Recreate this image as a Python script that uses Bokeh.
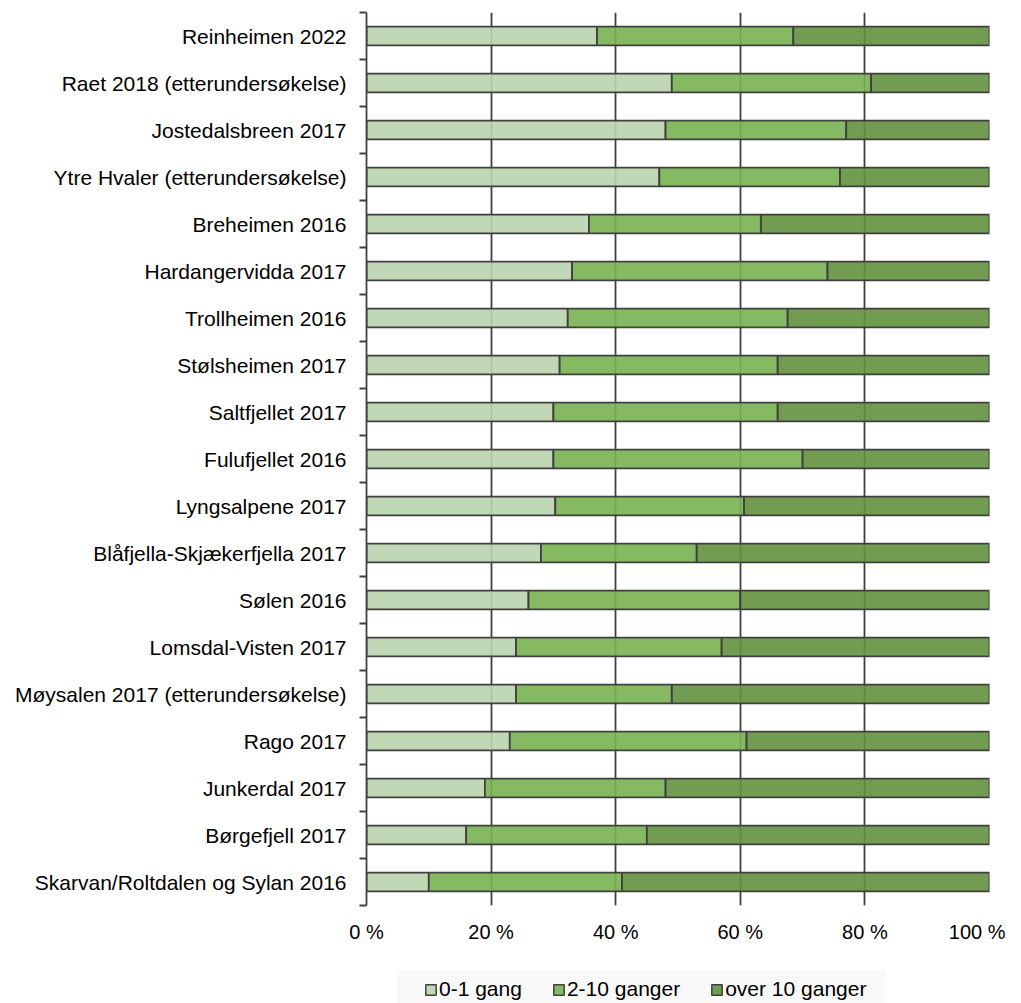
from bokeh.plotting import figure
from bokeh.models import Range1d, FixedTicker, Legend, LegendItem, ColumnDataSource, Spacer
from bokeh.layouts import column, row
from bokeh.embed import file_html
from bokeh.resources import INLINE

categories = [
    "Reinheimen 2022",
    "Raet 2018 (etterundersøkelse)",
    "Jostedalsbreen 2017",
    "Ytre Hvaler (etterundersøkelse)",
    "Breheimen 2016",
    "Hardangervidda 2017",
    "Trollheimen 2016",
    "Stølsheimen 2017",
    "Saltfjellet 2017",
    "Fulufjellet 2016",
    "Lyngsalpene 2017",
    "Blåfjella-Skjækerfjella 2017",
    "Sølen 2016",
    "Lomsdal-Visten 2017",
    "Møysalen 2017 (etterundersøkelse)",
    "Rago 2017",
    "Junkerdal 2017",
    "Børgefjell 2017",
    "Skarvan/Roltdalen og Sylan 2016",
]
gang_0_1 = [37.0, 49.0, 48.0, 47.0, 35.7, 33.0, 32.3, 31.0, 30.0, 30.0, 30.3, 28.0, 26.0, 24.0, 24.0, 23.0, 19.0, 16.0, 10.0]
ganger_2_10 = [31.5, 32.0, 29.0, 29.0, 27.6, 41.0, 35.3, 35.0, 36.0, 40.0, 30.3, 25.0, 34.0, 33.0, 25.0, 38.0, 29.0, 29.0, 31.0]
over_10 = [round(100 - a - b, 1) for a, b in zip(gang_0_1, ganger_2_10)]
series_names = ["0-1 gang", "2-10 ganger", "over 10 ganger"]
x_ticks = [0, 20, 40, 60, 80, 100]
x_tick_labels = ["0 %", "20 %", "40 %", "60 %", "80 %", "100 %"]

colors = ["#b9d4ad", "#79b251", "#62913f"]
edge = "#404040"
FONT = "Liberation Sans"

n = len(categories)
pos = [i + 0.5 for i in range(n)]
left1 = [0.0] * n
right1 = gang_0_1
left2 = gang_0_1
right2 = [a + b for a, b in zip(gang_0_1, ganger_2_10)]
left3 = right2
right3 = [a + b + c for a, b, c in zip(gang_0_1, ganger_2_10, over_10)]

W = 1005
p = figure(width=W, height=960, output_backend="svg", toolbar_location=None,
           x_range=Range1d(0, 100), y_range=Range1d(n, 0),
           min_border_left=366, min_border_right=W - 989, min_border_top=12, min_border_bottom=55)
p.outline_line_color = None
p.background_fill_color = "white"
p.border_fill_color = "white"

for (l, r, c) in [(left1, right1, colors[0]), (left2, right2, colors[1]), (left3, right3, colors[2])]:
    src = ColumnDataSource(dict(y=pos, left=l, right=r))
    p.hbar(y="y", left="left", right="right", height=0.4, source=src,
           fill_color=c, fill_alpha=0.9, line_color=edge, line_width=1.8)

# x axis
xa = p.xaxis[0]
xa.ticker = FixedTicker(ticks=x_ticks)
xa.major_label_overrides = {t: lab for t, lab in zip(x_ticks, x_tick_labels)}
xa.axis_line_color = None
xa.major_tick_line_color = None
xa.minor_tick_line_color = None
xa.major_tick_out = 0
xa.major_tick_in = 0
xa.major_label_standoff = 15
xa.major_label_text_font = FONT
xa.major_label_text_font_size = "20px"
xa.major_label_text_color = "#000000"

# y axis
ya = p.yaxis[0]
ya.ticker = FixedTicker(ticks=pos, minor_ticks=list(range(n + 1)))
ya.major_label_overrides = {pv: cat for pv, cat in zip(pos, categories)}
ya.axis_line_color = edge
ya.axis_line_width = 1.8
ya.major_tick_line_color = None
ya.major_tick_out = 0
ya.major_tick_in = 0
ya.minor_tick_line_color = edge
ya.minor_tick_line_width = 1.8
ya.minor_tick_out = 7
ya.minor_tick_in = 0
ya.major_label_standoff = 13
ya.major_label_text_font = FONT
ya.major_label_text_font_size = "21px"
ya.major_label_text_color = "#000000"

# grid
p.ygrid.grid_line_color = None
p.xgrid.ticker = FixedTicker(ticks=x_ticks[1:])
p.xgrid.grid_line_color = edge
p.xgrid.grid_line_width = 1.8

# legend in its own small figure below
lf = figure(width=488, height=33, output_backend="svg", toolbar_location=None,
            x_range=Range1d(0, 1), y_range=Range1d(0, 1),
            min_border=0, min_border_left=0, min_border_right=0, min_border_top=0, min_border_bottom=0)
lf.axis.visible = False
lf.grid.visible = False
lf.outline_line_color = None
lf.background_fill_color = "#f8f8f8"
lf.border_fill_color = "#f8f8f8"
items = []
nan = float("nan")
for s, c in zip(series_names, colors):
    dummy = ColumnDataSource(dict(y=[nan], left=[nan], right=[nan]))
    rr = lf.hbar(y="y", left="left", right="right", height=0.4, source=dummy,
                 fill_color=c, fill_alpha=0.9, line_color=edge, line_width=1.5)
    items.append(LegendItem(label=s, renderers=[rr]))
legend = Legend(items=items, orientation="horizontal", location=(27, 2),
                background_fill_alpha=0.0, border_line_color=None,
                padding=0, spacing=30, margin=0,
                label_standoff=2, glyph_width=13, glyph_height=13, label_height=24,
                label_text_font=FONT, label_text_font_size="21px",
                label_text_color="#000000")
lf.add_layout(legend, "center")

layout = column(p, Spacer(width=W, height=10),
                row(Spacer(width=397, height=33), lf))

open("out.html", "w").write(file_html(layout, INLINE))
